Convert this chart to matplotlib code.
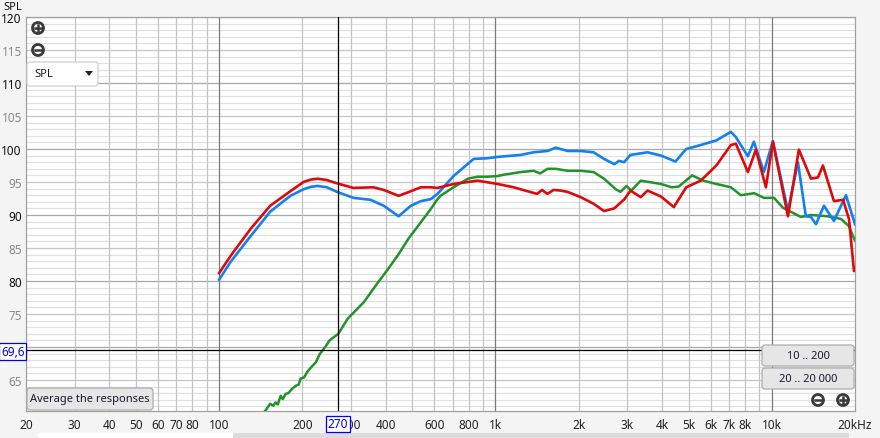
import numpy as np
import matplotlib
matplotlib.use("Agg")
import matplotlib.pyplot as plt
from matplotlib.patches import FancyBboxPatch, Rectangle, Circle, Polygon
from matplotlib.lines import Line2D
from matplotlib.transforms import Affine2D

plt.rcParams['font.family'] = ['Noto Sans', 'DejaVu Sans']

# measured responses (Hz, dB SPL)
red_freq = [100, 110, 130, 153, 181, 202, 214, 227, 245, 267, 306, 361, 394, 446, 494, 537, 583, 617, 705, 862,
            1018, 1162, 1306, 1414, 1475, 1540, 1624, 1722, 1824, 2035, 2265, 2470, 2690, 2930, 3080, 3354, 3550,
            3970, 4420, 4900, 5530, 6300, 7110, 7412, 8192, 8756, 9520, 10090, 11440, 12530, 13860, 14690, 15310,
            16780, 18110, 19020, 19830, 20000]
red_spl = [81.2, 83.8, 87.9, 91.4, 93.6, 95.0, 95.35, 95.5, 95.3, 94.8, 94.1, 94.2, 93.8, 92.9, 93.6, 94.2, 94.2,
           94.1, 94.7, 95.2, 94.7, 94.2, 93.6, 93.2, 93.8, 93.2, 93.8, 93.7, 93.5, 92.7, 91.7, 90.6, 91.0, 92.4,
           93.7, 92.7, 93.7, 92.8, 91.2, 94.2, 95.2, 97.5, 100.6, 100.8, 96.5, 99.9, 94.2, 101.1, 89.8, 99.9, 95.5,
           95.7, 97.5, 92.1, 92.3, 89.4, 81.5, 81.8]

blue_freq = [100, 110, 130, 153, 181, 202, 214, 227, 245, 267, 306, 353, 394, 446, 494, 537, 583, 617, 705, 834,
             936, 1018, 1233, 1374, 1544, 1651, 1824, 2035, 2265, 2470, 2690, 2800, 2920, 3080, 3550, 3970, 4480,
             4900, 5530, 6300, 7110, 7412, 8192, 8612, 9358, 10090, 11440, 12430, 13280, 13860, 14450, 15440, 16780,
             18550, 20000]
blue_spl = [80.2, 82.9, 86.8, 90.5, 92.9, 93.9, 94.25, 94.4, 94.2, 93.5, 92.6, 92.3, 91.4, 89.8, 91.4, 92.1, 92.4,
            93.2, 95.9, 98.5, 98.6, 98.8, 99.1, 99.5, 99.7, 100.2, 99.7, 99.7, 99.5, 98.5, 97.7, 98.2, 98.0, 99.1,
            99.5, 99.0, 98.1, 100.0, 100.6, 101.3, 102.6, 101.8, 98.9, 101.1, 96.5, 101.2, 90.6, 98.0, 89.8, 89.7,
            88.6, 91.4, 89.1, 93.0, 88.6]

green_freq = [140, 147, 153, 157, 160, 163, 167, 170, 174, 178, 183, 189, 194, 197, 203, 209, 215, 224, 231, 243,
              251, 270, 292, 334, 373, 410, 445, 484, 537, 583, 617, 632, 705, 795, 862, 936, 1018, 1070, 1233, 1374,
              1450, 1544, 1651, 1824, 2035, 2265, 2470, 2724, 2834, 2980, 3100, 3354, 3970, 4340, 4600, 5150, 5650,
              6300, 7110, 7720, 8640, 9358, 10180, 10970, 12740, 13860, 15970, 17790, 19020, 20000]
green_spl = [59.3, 60.35, 61.4, 61.1, 61.6, 61.3, 62.6, 62.1, 62.9, 63.0, 63.6, 64.1, 64.3, 65.2, 65.4, 66.3, 66.9,
             67.7, 68.9, 70.1, 71.0, 72.0, 74.3, 76.8, 79.6, 81.9, 84.0, 86.4, 88.9, 90.9, 92.4, 92.9, 94.2, 95.5,
             95.8, 95.8, 95.9, 96.1, 96.5, 96.7, 96.3, 97.0, 97.0, 96.7, 96.7, 96.5, 95.5, 93.9, 93.5, 94.4, 93.7,
             95.2, 94.7, 94.2, 94.3, 96.0, 95.2, 94.7, 94.2, 93.0, 93.3, 92.6, 92.6, 91.1, 89.7, 90.0, 89.8, 89.4,
             88.3, 86.1]

x_ticks = [20, 30, 40, 50, 60, 70, 80, 100, 200, 300, 400, 600, 800, 1000, 2000, 3000, 4000, 5000, 6000, 7000,
           8000, 10000, 20000]
x_labels = ['20', '30', '40', '50', '60', '70', '80', '100', '200', '300', '400', '600', '800', '1k', '2k', '3k',
            '4k', '5k', '6k', '7k', '8k', '10k', '20kHz']
y_ticks = [65, 75, 80, 85, 90, 95, 100, 105, 110, 115, 120]

cursor_freq = 270
cursor_spl = 69.6

W, H = 880, 439
fig = plt.figure(figsize=(W / 100, H / 100), dpi=100, facecolor='#f4f4f4')
# pixel coordinates, y going down
pix = Affine2D().scale(1 / W, -1 / H).translate(0, 1) + fig.transFigure

ax = fig.add_axes([26 / W, (H - 412) / H, (855 - 26) / W, (412 - 18) / H])
ax.set_facecolor('white')
ax.set_xscale('log')
ax.set_xlim(20, 20000)
ax.set_ylim(60.3, 120)

# grid
for v in range(61, 121):
    if v % 10 == 0:
        c = '#a8a8a8'
    elif v % 5 == 0:
        c = '#c6c6c6'
    else:
        c = '#e0e0e0'
    ax.axhline(v, color=c, lw=0.9, zorder=0)
for dec in [10, 100, 1000, 10000]:
    for d in range(1, 10):
        f = d * dec
        if 20 < f < 20000:
            ax.axvline(f, color='#7a7a7a' if d == 1 else '#c4c4c4', lw=0.9, zorder=0)

for s in ax.spines.values():
    s.set_color('#a0a0a0')
    s.set_linewidth(0.9)

ax.set_xticks(x_ticks)
ax.set_xticklabels(x_labels)
ax.xaxis.set_minor_locator(matplotlib.ticker.NullLocator())
ax.set_yticks(y_ticks)
ax.set_yticklabels([str(v) for v in y_ticks])
ax.tick_params(axis='both', length=0, labelsize=8.5)
ax.tick_params(axis='x', pad=5, labelcolor='#222222')
ax.tick_params(axis='y', pad=3)
for lab, v in zip(ax.get_yticklabels(), y_ticks):
    lab.set_color('#111111' if v % 10 == 0 else '#8a8a8a')

ax.plot(green_freq, green_spl, color='#22922a', lw=1.8, zorder=3)
ax.plot(blue_freq, blue_spl, color='#1480ee', lw=1.9, zorder=4)
ax.plot(red_freq, red_spl, color='#dc0a0a', lw=1.9, zorder=5)

# cursor
ax.axvline(cursor_freq, color='black', lw=0.9, zorder=6)
ax.axhline(cursor_spl, color='black', lw=0.9, zorder=6)
fig.add_artist(Line2D([0, 26], [352.5, 352.5], transform=pix, color='black', lw=0.9))
fig.text(1 / W, 1 - 352.5 / H, '69,6', color='#0000ee', fontsize=8.5, ha='left', va='center', zorder=20,
         bbox=dict(boxstyle='square,pad=0.15', fc='white', ec='#0000ee', lw=0.9))
fig.text(338 / W, 1 - 425 / H, '270', color='#0000ee', fontsize=8.5, ha='center', va='center', zorder=20,
         bbox=dict(boxstyle='square,pad=0.15', fc='white', ec='#0000ee', lw=0.9))

fig.text(3 / W, 1 - 8 / H, 'SPL', fontsize=8, color='#111111', ha='left', va='center')


def button(x0, y0, x1, y1, label, fc='#e6e6e6', ec='#adadad', ha='center'):
    fig.add_artist(FancyBboxPatch((x0, y0), x1 - x0, y1 - y0, boxstyle='round,pad=0,rounding_size=3',
                                  transform=pix, fc=fc, ec=ec, lw=0.9, zorder=10))
    tx = (x0 + x1) / 2 if ha == 'center' else x0 + 7
    fig.text(tx / W, 1 - (y0 + y1) / 2 / H, label, fontsize=8, color='#1a1a2e', ha=ha, va='center', zorder=11)


def zoom_icon(x, y, plus):
    fig.add_artist(Circle((x, y), 5.5, transform=pix, fc='white', ec='#3a3a3a', lw=2.0, zorder=12))
    fig.add_artist(Line2D([x - 3, x + 3], [y, y], transform=pix, color='#3a3a3a', lw=1.8, zorder=13))
    if plus:
        fig.add_artist(Line2D([x, x], [y - 3, y + 3], transform=pix, color='#3a3a3a', lw=1.8, zorder=13))


button(27, 63, 98, 87, 'SPL', fc='white', ec='#d0d0d0', ha='left')
fig.add_artist(Polygon([(85, 72), (93, 72), (89, 77)], closed=True, transform=pix, fc='#222222', ec='none',
                       zorder=12))
button(27, 389, 153, 411, 'Average the responses')
button(762, 346, 854, 367, '10 .. 200')
button(762, 369, 854, 390, '20 .. 20 000')
zoom_icon(38, 29, True)
zoom_icon(38, 51, False)
zoom_icon(818, 401, False)
zoom_icon(843, 401, True)

# scroll bar
fig.add_artist(Rectangle((38, 434), 195, 5, transform=pix, fc='white', ec='none'))
fig.add_artist(Rectangle((233, 434), 616, 5, transform=pix, fc='#dcdcdc', ec='none'))

fig.savefig('out.png', dpi=100, facecolor=fig.get_facecolor())
